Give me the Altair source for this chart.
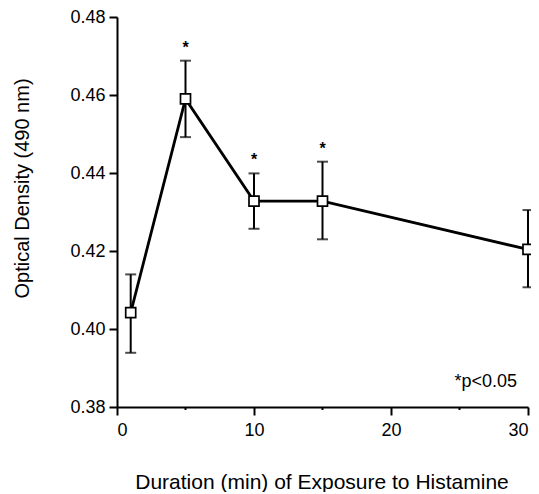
import altair as alt
import pandas as pd

# Data
minutes = [1, 5, 10, 15, 30]
density = [0.4042, 0.4590, 0.4328, 0.4328, 0.4204]
err_hi = [0.4140, 0.4688, 0.4399, 0.4429, 0.4305]
err_lo = [0.3939, 0.4492, 0.4257, 0.4230, 0.4107]
signif = ["", "*", "*", "*", ""]
minor_ticks = [5, 15, 25]
note_text = ["*p<0.05"]
note_x = [29.2]
note_y = [0.3864]

df = pd.DataFrame({"x": minutes, "y": density, "hi": err_hi, "lo": err_lo, "sig": signif})
df_sig = df[df["sig"] != ""]
df_minor = pd.DataFrame({"x": minor_ticks})
df_note = pd.DataFrame({"t": note_text, "x": note_x, "y": note_y})

W, H = 411, 390
FONT = "Liberation Sans"

xscale = alt.Scale(domain=[0, 30], nice=False, zero=False)
yscale = alt.Scale(domain=[0.38, 0.48], nice=False, zero=False)

xaxis = alt.Axis(
    values=[0, 10, 20, 30], title="Duration (min) of Exposure to Histamine",
    grid=False, labelFontSize=18, titleFontSize=21, titleFontWeight="normal",
    titleX=W / 2 - 1, titleY=75, titleBaseline="middle", titleAlign="center",
    labelPadding=6, tickSize=8,
)
yaxis = alt.Axis(
    values=[0.38, 0.40, 0.42, 0.44, 0.46, 0.48], format=".2f",
    title="Optical Density (490 nm)", grid=False, labelFontSize=18,
    titleFontSize=20, titleFontWeight="normal", titleAngle=-90,
    titleX=-95, titleY=171, titleBaseline="middle", titleAlign="center",
    labelPadding=4, tickSize=8,
)

base = alt.Chart(df)

line = base.mark_line(color="black", strokeWidth=2.8).encode(
    x=alt.X("x:Q", scale=xscale, axis=xaxis),
    y=alt.Y("y:Q", scale=yscale, axis=yaxis),
)

bars = base.mark_rule(color="black", strokeWidth=2).encode(
    x="x:Q", y="lo:Q", y2="hi:Q"
)
cap_hi = base.mark_tick(color="black", thickness=2, size=11, orient="horizontal").encode(
    x="x:Q", y="hi:Q"
)
cap_lo = base.mark_tick(color="black", thickness=2, size=11, orient="horizontal").encode(
    x="x:Q", y="lo:Q"
)

points = base.mark_point(
    shape="square", filled=True, fill="white", stroke="black",
    strokeWidth=1.7, size=100, opacity=1
).encode(x="x:Q", y="y:Q")

stars = alt.Chart(df_sig).mark_text(
    font=FONT, fontSize=16, fontWeight="bold", color="black", dy=-13, baseline="middle"
).encode(x="x:Q", y="hi:Q", text="sig:N")

minor = alt.Chart(df_minor).mark_rule(color="black", strokeWidth=2).encode(
    x="x:Q", y=alt.value(H), y2=alt.value(H + 3)
)

note = alt.Chart(df_note).mark_text(
    font=FONT, fontSize=18, color="black", align="right", baseline="middle"
).encode(x="x:Q", y="y:Q", text="t:N")

chart = alt.layer(line, bars, cap_hi, cap_lo, points, stars, minor, note).properties(
    width=W, height=H,
    autosize=alt.AutoSizeParams(type="none"),
    padding={"left": 109, "top": 9, "right": 3, "bottom": 85},
    background="white",
).configure_view(stroke=None).configure_axis(
    domainColor="black", domainWidth=2, tickColor="black", tickWidth=2,
    labelColor="black", titleColor="black", labelFont=FONT, titleFont=FONT,
)

chart.save("out.html", embed_options={"renderer": "svg", "actions": False})
